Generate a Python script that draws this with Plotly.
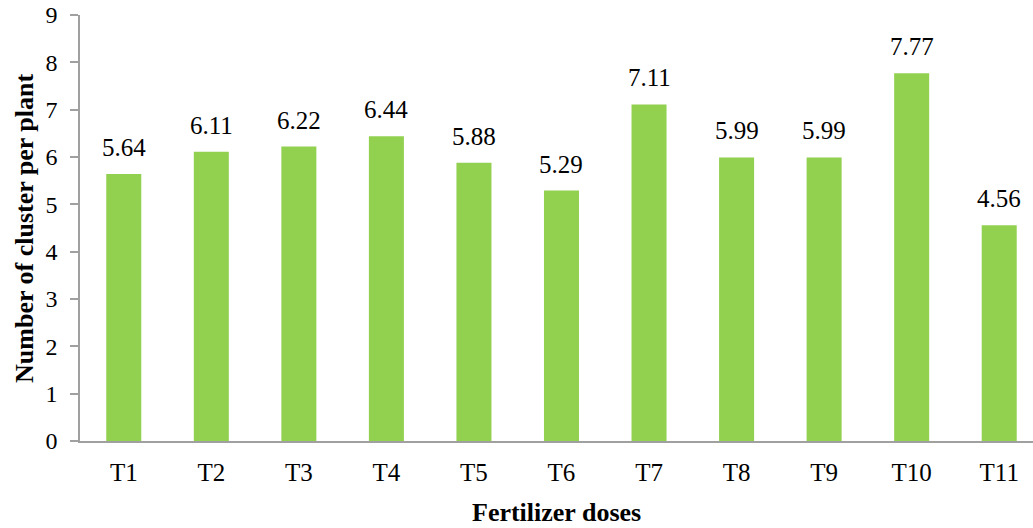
import plotly.graph_objects as go

categories = ["T1", "T2", "T3", "T4", "T5", "T6", "T7", "T8", "T9", "T10", "T11"]
values = [5.64, 6.11, 6.22, 6.44, 5.88, 5.29, 7.11, 5.99, 5.99, 7.77, 4.56]
value_labels = ["5.64", "6.11", "6.22", "6.44", "5.88", "5.29", "7.11", "5.99", "5.99", "7.77", "4.56"]
y_ticks = [0, 1, 2, 3, 4, 5, 6, 7, 8, 9]

fig = go.Figure(go.Bar(
    x=categories, y=values,
    marker=dict(color="#92D050", line=dict(width=0)),
    cliponaxis=False,
))

for c, v, t in zip(categories, values, value_labels):
    fig.add_annotation(x=c, y=v, text=t, showarrow=False, yanchor="bottom", yshift=11,
                       font=dict(family="Liberation Serif", size=25, color="black"))

fig.add_annotation(xref="paper", yref="paper", x=0.5, y=-0.169, yanchor="middle",
                   text="<b>Fertilizer doses</b>", showarrow=False,
                   font=dict(family="Liberation Serif", size=26, color="black"))
fig.add_annotation(xref="paper", yref="paper", x=-0.0588, y=0.5, xanchor="center",
                   text="<b>Number of cluster per plant</b>", showarrow=False, textangle=-90,
                   font=dict(family="Liberation Serif", size=26, color="black"))

fig.update_layout(
    width=1033, height=528,
    margin=dict(l=80, r=0, t=15, b=87),
    paper_bgcolor="white", plot_bgcolor="white",
    bargap=0.6, showlegend=False,
    font=dict(family="Liberation Serif", color="black"),
)
fig.update_xaxes(
    automargin=False, range=[-0.5, 10.386],
    showline=True, linecolor="#A0A0A0", linewidth=1.5,
    ticks="", ticklabelstandoff=8, ticklabeloverflow="allow",
    tickfont=dict(size=25, family="Liberation Serif"),
)
fig.update_yaxes(
    automargin=False,
    range=[0, 9], tickvals=y_ticks, showgrid=False, zeroline=False,
    showline=True, linecolor="#A0A0A0", linewidth=1.5,
    ticks="outside", ticklen=8, tickcolor="#A0A0A0", tickwidth=1.5,
    ticklabelstandoff=8, ticklabeloverflow="allow",
    tickfont=dict(size=24, family="Liberation Serif"),
)

# remove the page's default 8px body margin so the 1033x528 figure fills the window
fig.write_html("out.html", config={"displayModeBar": False},
               post_script="document.body.style.margin='0px';")
